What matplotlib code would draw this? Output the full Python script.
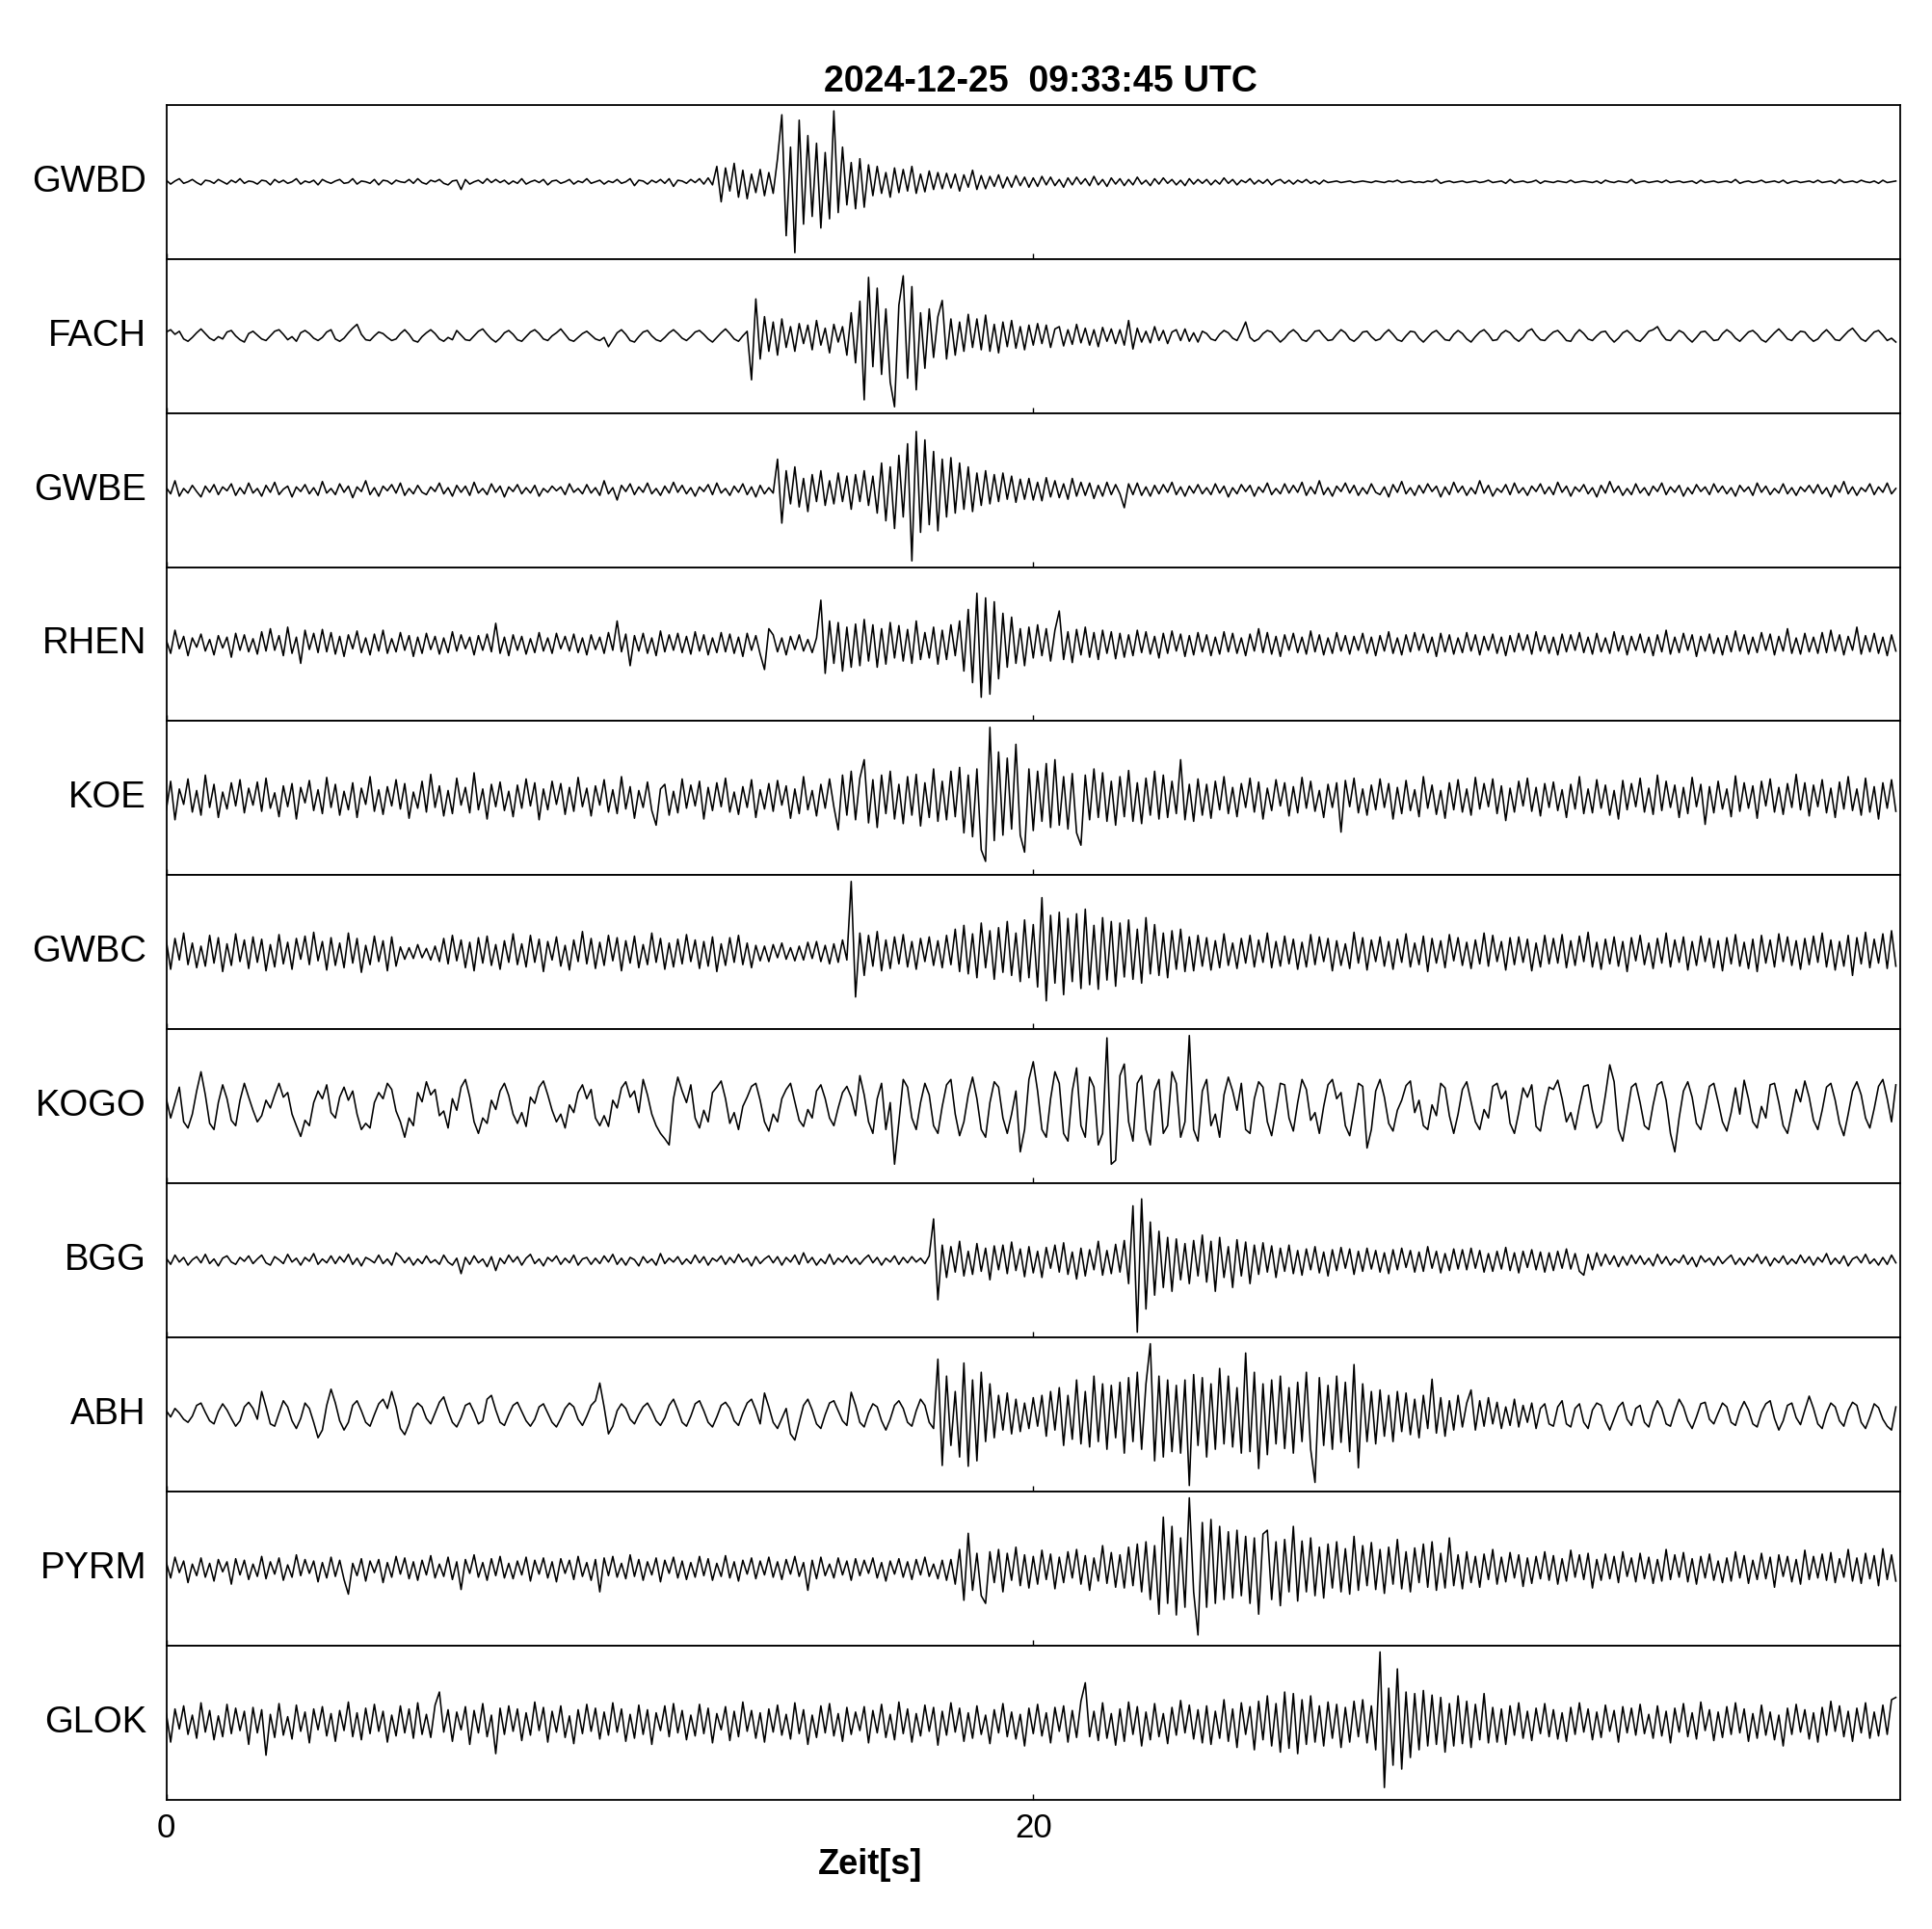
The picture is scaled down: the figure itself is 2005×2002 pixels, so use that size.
import numpy as np
import matplotlib
matplotlib.use("Agg")
import matplotlib.pyplot as plt

plt.rcParams['font.family'] = ['Liberation Sans', 'DejaVu Sans']

title_text = "2024-12-25  09:33:45 UTC"
xlabel_text = "Zeit[s]"
stations = ["GWBD", "FACH", "GWBE", "RHEN", "KOE", "GWBC", "KOGO", "BGG", "ABH", "PYRM", "GLOK"]
dt = 0.1          # sample spacing [s]
x_ticks = [0, 20]
x_max = 40

# amplitudes in % of the half panel height, one sample every 0.1 s
GWBD = [
2,-3,1,4,-2,0,3,-1,-4,2,1,-2,3,0,-3,2,-1,4,-2,1,
0,-3,2,1,-4,3,-1,2,-2,0,4,-3,1,-1,2,-4,3,0,-2,1,
3,-2,-1,4,-3,1,0,-2,3,-4,2,1,-3,2,0,-1,3,-2,4,-1,
-3,2,0,3,-2,-4,1,2,-10,3,-3,0,2,-2,4,-1,3,-1,2,-3,
1,-2,4,-3,0,2,-1,3,-4,1,2,-2,0,3,-3,1,-1,4,-2,0,
2,-3,1,-1,3,-2,0,4,-5,2,1,-3,2,-1,3,-2,4,-6,2,1,
-2,3,-1,4,-3,5,-4,20,-26,18,-12,24,-20,15,-22,10,-14,16,-18,12,
-15,30,87,-70,45,-92,80,-55,60,-45,50,-60,38,-48,92,-40,45,-30,25,-35,
30,-33,22,-18,20,-15,12,-20,18,-14,16,-12,20,-15,10,-13,14,-10,12,-9,
11,-8,10,-12,9,-7,15,-10,8,-9,7,-6,9,-8,6,-7,8,-5,6,-7,
5,-6,7,-4,6,-5,3,-7,5,-4,6,-3,4,-5,7,-4,3,-6,5,-3,
4,-5,3,-4,6,-3,2,-5,4,-3,5,-2,3,-4,2,-5,4,-3,3,-2,
3,-4,2,-3,5,-2,3,-4,2,-1,4,-3,2,-2,3,-4,1,3,-2,2,
-3,2,-1,3,-2,1,-3,2,-1,0,1,-1,0,1,-1,0,1,0,-1,1,
0,-1,1,0,2,-1,0,1,-1,0,-1,1,0,3,-2,0,1,-1,0,1,
-1,0,1,-1,0,2,-1,0,1,-2,3,-1,0,1,-1,0,2,-2,1,0,
-1,1,0,-1,2,-1,0,1,0,-1,1,-2,2,0,-1,1,0,-1,3,-2,
0,1,-1,0,1,-1,2,-1,0,1,-1,0,1,-2,2,-1,0,1,-1,0,
1,-1,3,-2,0,1,-1,0,2,-1,0,1,-1,2,-2,0,1,-1,0,1,
-1,2,-1,0,1,-2,3,-1,0,1,-1,2,0,-1,1,-2,2,-1,0,1]

FACH = [
5,8,2,6,-4,-7,-2,4,9,3,-3,-6,-1,-4,5,7,0,-5,-8,3,
6,1,-4,-6,0,6,8,2,-5,-1,-7,4,7,3,-3,-6,-2,5,8,-4,
-7,-3,4,10,15,2,-5,-6,0,5,3,-2,-6,-4,3,8,2,-6,-8,-1,
4,8,3,-4,-7,-2,-5,7,1,-5,-6,0,6,9,2,-4,-8,-3,4,7,
2,-5,-7,-1,5,8,3,-4,-6,0,4,9,2,-5,-7,-2,3,6,1,-4,
-6,-2,-14,-5,4,8,2,-6,-8,-1,5,7,0,-5,-7,-2,4,8,3,-3,
-6,-1,5,7,2,-4,-8,-2,4,9,3,-4,-7,0,6,-57,48,-30,25,-20,
18,-25,22,-15,12,-20,16,-10,14,-18,20,-12,10,-22,15,-8,12,-25,30,-35,
45,-83,76,-40,62,-50,35,-60,-92,40,78,-55,64,-70,30,-42,35,-28,25,46,
-30,22,-25,18,-20,28,-15,22,-18,27,-20,15,-22,18,-14,20,-16,12,-18,14,
-12,16,-10,14,-15,9,12,-13,8,-11,15,-9,10,-12,8,-14,11,-7,9,-10,
8,-12,20,-17,10,-8,6,-9,12,-6,7,-10,5,8,-6,9,-7,4,-8,6,
3,-4,-6,2,7,4,-3,-6,5,18,-2,-7,-4,3,7,5,-2,-8,-3,4,
8,3,-5,-7,-1,6,7,0,-6,-5,2,8,4,-4,-7,-2,5,6,-1,-6,
-4,3,8,2,-5,-7,0,6,5,-3,-8,-2,4,7,1,-5,-6,2,7,3,
-4,-8,-1,5,8,2,-6,-5,3,7,4,-3,-7,-2,6,9,1,-5,-6,0,
5,7,1,-6,-7,2,8,3,-4,-6,0,5,6,-2,-8,-3,4,7,2,-5,
-7,-1,6,8,12,2,-5,-6,1,7,4,-3,-8,-2,5,6,0,-6,-5,3,
8,4,-3,-7,-1,5,7,2,-5,-8,-2,4,9,3,-4,-6,1,6,5,-2,
-7,-4,3,8,2,-5,-6,0,6,10,3,-4,-7,-1,5,7,1,-6,-3,-8]

GWBE = [
3,-5,12,-8,2,-4,6,-2,-9,5,-3,7,-6,4,-1,8,-7,3,-5,9,
-4,2,-8,6,-3,10,-6,1,5,-9,4,-2,7,-5,3,-7,11,-4,2,-6,
8,-3,5,-10,4,-2,12,-6,3,-8,5,-1,7,-4,9,-7,2,-5,6,-3,
-6,4,-2,9,-5,3,-8,6,-3,5,-7,10,-4,2,-6,8,-3,5,-9,4,
-2,7,-5,3,-4,6,-8,2,-3,5,-1,4,-6,8,-3,2,-5,7,-4,3,
-7,12,-5,3,-13,6,-2,8,-6,4,-3,9,-5,2,-7,5,-4,10,-3,6,
-5,3,-8,4,-2,7,-6,9,-4,2,-7,5,-3,8,-6,4,-9,6,-5,3,
-4,40,-43,25,-18,30,-22,15,-28,20,-15,25,-20,12,-18,22,-15,18,-25,20,
-15,25,-20,18,-30,35,-40,30,-50,45,-35,60,-92,76,-55,65,-45,50,-53,40,
-35,42,-30,35,-25,30,-28,22,-20,25,-18,20,-15,22,-12,18,-16,14,-12,15,
-13,10,-14,16,-9,12,-10,8,-12,15,-8,10,-7,9,-11,6,-8,10,-6,7,
-5,-23,8,-6,9,-7,4,-8,6,-5,7,-3,10,-6,4,-8,5,-4,7,-5,
3,-6,8,-4,5,-9,3,-5,7,-2,6,-8,4,-3,9,-6,2,-5,8,-4,
6,-3,10,-7,4,-5,12,-6,3,-8,5,-2,9,-4,6,-7,3,-5,8,-3,
-6,4,-9,7,-3,11,-5,3,-7,6,-4,8,-2,5,-9,4,-6,10,-3,5,
-7,3,-5,12,-4,6,-8,2,-3,7,-6,9,-4,3,-7,5,-2,8,-5,4,
-6,10,-3,5,-8,4,-2,7,-5,3,-9,6,-4,11,-3,5,-7,2,-6,8,
-4,3,-7,5,-2,9,-6,4,-3,6,-8,3,-5,7,-2,4,-6,8,-3,5,
-5,3,-8,6,-2,4,-7,9,-3,5,-6,2,-4,8,-5,3,-7,4,-2,6,
-4,7,-5,3,-9,6,-3,11,-5,4,-7,3,-2,8,-6,4,-3,9,-5,2]

RHEN = [
5,-12,18,-6,10,-15,8,-4,13,-9,6,-14,11,-5,9,-17,14,-8,12,-10,
7,-13,16,-9,20,-8,11,-15,22,-12,9,-25,18,-7,14,-11,19,-10,15,-13,
10,-16,12,-6,17,-11,8,-14,13,-9,18,-12,7,-10,15,-8,11,-16,9,-12,
14,-7,10,-13,8,-11,16,-9,12,-6,9,-14,11,-8,13,-10,27,-12,9,-15,
12,-8,10,-13,7,-11,15,-9,8,-12,14,-6,10,-9,13,-11,8,-14,12,-7,
9,-12,15,-8,30,-10,13,-28,11,-9,14,-12,8,-15,17,-10,12,-8,14,-11,
10,-13,16,-9,12,-14,8,-11,15,-10,13,-12,9,-16,14,-8,11,-13,-33,20,
12,-10,8,-14,10,-7,12,-9,6,-11,8,57,-38,30,-25,28,-35,22,-30,26,
-28,32,-22,25,-30,20,-26,28,-18,24,-22,19,-25,30,-20,15,-18,22,-26,18,
-20,25,-15,30,-35,45,-50,66,-69,60,-65,55,-45,40,-30,35,-25,20,-28,22,
-18,25,-15,20,-22,18,43,-20,16,-24,19,-14,22,-17,15,-20,18,-12,16,-19,
14,-17,12,-15,18,-11,16,-13,10,-18,14,-12,17,-9,13,-16,11,-14,15,-10,
12,-15,9,-13,16,-10,14,-12,8,-15,13,-9,20,-11,15,-13,10,-16,12,-8,
14,-11,9,-13,17,-10,12,-14,8,-12,15,-9,11,-13,10,-8,14,-12,9,-15,
11,-9,16,-12,8,-14,12,-10,15,-8,13,-11,9,-16,14,-10,12,-13,8,-11,
15,-9,12,-14,10,-8,13,-12,9,-15,11,-10,14,-8,12,-13,16,-9,11,-12,
9,-14,13,-10,12,-8,15,-11,9,-13,14,-10,8,-12,16,-9,11,-14,10,-8,
13,-11,9,-15,12,-10,18,-13,9,-11,14,-8,12,-16,10,-9,13,-12,8,-14,
11,-10,17,-9,12,-13,9,-11,15,-8,13,-14,10,-9,20,-12,8,-13,14,-10,
9,-12,15,-11,18,-9,12,-14,10,-8,22,-13,11,-10,14,-12,9,-15,12,-9]

KOE = [
-15,22,-28,12,-8,25,-18,10,-22,30,-12,18,-25,8,-14,20,-10,24,-19,13,
-9,21,-17,26,-13,7,-24,16,-11,19,-27,14,-6,23,-16,11,-20,27,-12,18,
-22,9,-15,20,-25,13,-8,28,-17,11,-21,15,-10,24,-14,19,-26,8,-13,22,
-18,31,-12,16,-23,10,-20,26,-9,14,-19,33,-15,12,-27,18,-11,21,-16,9,
-24,17,-13,25,-10,20,-28,12,-15,22,-8,19,-21,14,-17,27,-11,13,-23,16,
-9,24,-18,11,-20,28,-14,15,-26,10,-12,21,-16,-35,12,18,-22,9,-19,25,
-13,17,-10,22,-27,14,-16,20,-11,26,-18,8,-21,15,-12,24,-25,11,-14,19,
-17,23,-9,16,-26,12,-20,28,-15,10,-23,18,-13,25,-11,-41,30,-22,35,-28,
26,50,-32,24,-38,30,-20,35,-27,18,-33,28,-22,31,-36,20,-25,38,-30,22,
-28,35,-24,40,-45,30,-50,38,-67,-82,92,-55,60,-48,52,-40,70,-48,-70,38,
-42,35,-30,45,-38,50,-35,28,-40,32,-45,-61,30,-28,38,-25,33,-30,22,-35,
28,-24,36,-30,20,-33,26,-22,35,-27,30,-25,22,-20,50,-28,18,-30,25,-22,
18,-26,22,-15,28,-20,14,-24,19,-12,26,-18,21,-27,13,-16,24,-10,20,-23,
15,-19,27,-13,22,-17,10,-25,18,-12,20,-44,23,-11,26,-19,12,-22,17,-15,
25,-12,19,-27,14,-20,23,-16,11,-24,28,-13,17,-21,10,-26,20,-15,24,-18,
12,-22,27,-14,19,-11,25,-20,16,-29,13,-18,22,-10,26,-17,14,-23,19,-12,
21,-16,11,-25,18,-14,28,-20,12,-19,24,-13,17,-22,10,-27,23,-15,19,-11,
26,-18,13,-21,30,-16,22,-12,17,-25,14,-20,27,-11,18,-34,15,-19,22,-14,
12,-24,29,-17,20,-13,16,-26,22,-10,25,-18,14,-21,19,-12,31,-15,20,-23,
17,-11,24,-19,13,-25,21,-14,28,-16,12,-22,26,-18,15,-27,20,-13,24,-17]

GWBC = [
15,-22,18,-10,25,-16,12,-20,8,-18,22,-14,19,-25,11,-17,24,-12,16,-21,
20,-13,17,-24,10,-19,23,-15,13,-22,18,-9,21,-16,26,-11,14,-23,19,-17,
12,-20,25,-14,18,-26,9,-16,21,-12,15,-24,20,-18,7,-9,6,-8,10,-7,
5,-10,8,-12,18,-15,22,-11,16,-20,13,-24,19,-14,21,-17,10,-22,15,-13,
24,-16,11,-19,22,-13,17,-25,14,-10,20,-18,9,-23,16,-12,27,-15,18,-21,
13,-17,22,-11,19,-24,15,-14,21,-20,10,-16,25,-13,18,-22,12,-19,17,-15,
23,-12,16,-21,14,-18,20,-25,11,-17,19,-13,22,-16,12,-20,9,-11,8,-12,
10,-7,12,-9,6,-11,8,-10,13,-8,14,-12,9,-15,11,-13,16,-10,92,-58,
25,-30,22,-18,27,-24,16,-21,20,-15,23,-19,14,-22,18,-12,20,-17,15,-20,
22,-16,30,-25,35,-28,24,-33,38,-20,28,-35,32,-26,40,-30,25,-38,42,-33,
36,-45,71,-63,48,-40,52,-55,44,-38,50,-47,56,-42,35,-48,45,-36,40,-44,
38,-32,42,-35,30,-40,45,-28,36,-30,25,-33,28,-22,30,-25,20,-24,22,-18,
19,-23,15,-20,24,-17,12,-21,18,-14,22,-19,16,-13,25,-20,14,-18,21,-15,
17,-22,13,-19,23,-16,20,-12,18,-24,15,-17,11,-21,26,-14,19,-23,16,-12,
20,-18,14,-22,17,-13,24,-19,12,-16,21,-25,18,-14,15,-20,23,-11,19,-17,
13,-21,16,-15,25,-18,22,-12,14,-23,19,-16,20,-13,17,-24,12,-19,22,-15,
18,-14,23,-20,15,-17,21,-12,26,-19,13,-22,17,-15,20,-18,14,-25,19,-11,
22,-16,12,-21,18,-14,25,-19,16,-13,20,-23,14,-17,21,-12,18,-20,15,-24,
19,-15,23,-18,13,-21,17,-25,22,-14,16,-19,24,-12,20,-17,15,-22,18,-16,
21,-13,25,-19,16,-23,14,-18,22,-30,19,-15,26,-20,17,-14,24,-21,28,-18]

KOGO = [
10,-15,5,25,-20,-28,-10,20,45,15,-22,-30,5,28,10,-18,-25,8,30,12,
-5,-20,-12,8,-2,15,30,12,18,-10,-25,-39,-18,-25,5,20,10,28,-8,-15,
12,25,8,20,-10,-30,-22,-28,5,18,10,30,22,-6,-20,-40,-15,-25,18,6,
32,15,22,-12,-6,-28,10,-5,25,35,12,-20,-35,-15,-22,8,-4,20,30,14,
-10,-22,-8,-26,12,4,25,33,15,-5,-20,-10,-28,2,-8,18,28,10,22,-15,
-25,-12,-26,8,-2,24,32,12,20,-8,35,15,-10,-25,-35,-42,-50,10,38,20,
5,28,-15,-28,-5,-20,18,25,33,10,-22,-8,-30,0,12,26,30,8,-20,-32,
-10,-20,10,22,30,6,-18,-26,-4,-15,20,28,10,-15,-25,-2,18,26,12,-12,
40,15,-20,-35,10,30,-30,5,-75,-20,35,25,-15,-30,5,30,15,-25,-35,0,
28,35,-10,-38,-20,15,38,10,-30,-40,5,32,25,-15,-35,-10,20,-59,-30,35,
58,20,-30,-40,10,45,30,-35,-45,20,50,-25,-40,38,25,-50,-35,89,-75,-70,
40,55,-20,-45,30,40,-30,-50,20,35,-35,-25,45,30,-40,-20,92,-30,-45,20,
35,-25,-10,-40,15,38,20,-5,30,-30,-35,10,32,25,-20,-38,-5,30,28,-15,
-32,5,35,22,-18,-8,-35,0,28,35,10,18,-25,-38,-5,30,26,-54,-30,20,
35,12,-22,-32,-5,8,27,33,-8,8,-25,-30,2,-12,30,24,-12,-35,-10,22,
32,6,-20,-30,-4,-15,26,30,10,20,-22,-35,-8,24,12,28,-26,-32,0,25,
22,34,10,-20,-8,-30,0,26,28,-5,-28,-20,15,54,32,-30,-45,-10,25,30,
5,-25,-30,2,28,32,8,-35,-59,-15,20,32,12,-22,-30,-3,26,30,6,-20,
-32,-8,24,-10,34,10,-20,-28,0,-15,28,30,5,-25,-35,-8,22,6,33,12,
-18,-30,-5,25,30,8,-22,-38,-10,20,32,15,-15,-28,-3,26,35,10,-20,28]

BGG = [
3,-5,7,-2,4,-6,1,5,-3,8,-4,2,-7,3,6,-2,-5,4,-1,6,
-4,2,7,-3,-6,5,1,-4,8,-2,3,-6,4,-1,9,-5,2,-3,6,-4,
5,-2,8,-5,3,-7,4,1,-3,7,-4,2,-6,10,5,-3,4,-6,2,-4,
6,-3,1,-5,7,-2,-6,3,-17,4,-5,6,-3,2,-8,5,-13,3,-4,7,
-2,5,-6,3,8,-4,2,-7,4,-1,6,-5,3,-3,7,-6,2,4,-5,3,
-4,6,-2,8,-5,3,-6,4,1,-7,5,-3,2,-6,9,-4,3,-2,5,-5,
2,-4,7,-3,5,-6,3,-1,6,-5,4,-3,8,-2,3,-7,5,-4,2,6,
-3,5,-6,4,-2,7,-5,10,-3,4,-6,2,-4,8,-5,3,-2,6,-4,3,
-5,2,7,-3,4,-6,3,-2,6,-5,4,-3,5,-2,3,-4,6,54,-51,20,
-22,18,-15,25,-20,12,-18,22,-14,16,-25,19,-12,20,-17,24,-13,15,-21,18,
-16,12,-22,17,-10,20,-15,23,-18,11,-24,16,-20,14,-12,25,-19,13,-17,21,
-15,26,-30,71,-93,80,-63,50,-45,38,-35,30,-40,28,-25,22,-30,26,-20,33,
-28,25,-40,30,-22,18,-35,27,-20,24,-30,20,-18,23,-15,19,-22,16,-14,20,
-17,13,-19,15,-12,18,-16,11,-20,14,-13,17,-10,15,-18,12,-14,16,-11,13,
-15,10,-17,14,-12,16,-9,13,-15,11,-14,18,-10,12,-16,9,-13,15,-11,14,
-12,16,-10,13,-15,9,-14,12,-11,17,-13,10,-16,12,-9,14,-12,11,-15,10,
-13,12,-10,15,-11,9,-14,-19,8,-12,10,-7,8,-5,6,-8,5,-6,7,-4,
6,-5,3,-7,8,-4,5,-6,2,-3,7,-5,4,-8,6,-2,3,-6,5,-4,
2,7,-5,3,-6,4,-2,8,-4,5,-7,3,-3,6,-5,2,-4,7,-3,5,
-6,4,-2,9,-5,3,-4,6,-7,2,5,-3,8,-4,2,-6,4,-5,7,-3]

ABH = [
5,-3,8,2,-6,-10,-2,12,15,3,-8,-12,4,14,6,-5,-15,-8,10,16,
8,-6,30,10,-12,-15,2,18,10,-8,-18,-5,15,8,-10,-30,-20,12,33,15,
-8,-20,-10,12,18,5,-10,-15,0,14,20,8,30,10,-18,-26,-12,8,15,10,
-5,-12,2,16,23,5,-10,-16,-4,12,15,3,-12,-8,20,25,6,-10,-14,0,
12,16,4,-8,-15,-6,10,14,2,-10,-16,-5,8,15,10,-6,-14,-2,12,18,
41,10,-25,-15,5,14,8,-6,-12,0,10,15,5,-8,-14,-4,12,20,6,-10,
-15,-2,14,18,5,-10,-16,-3,12,16,8,-8,-14,2,15,20,6,-12,28,10,
-10,-18,-5,8,-25,-33,-10,12,20,6,-12,-18,0,15,18,5,-8,-14,29,12,
-10,-16,2,14,10,-8,-20,-6,12,18,8,-10,-15,5,20,12,-10,-18,72,-66,
50,-40,30,-55,67,-67,45,-60,55,-35,40,-30,25,-20,28,-25,20,-22,15,-18,
22,-15,25,-28,30,-20,35,-40,25,-32,45,-38,30,-42,50,-35,40,-45,38,-30,
42,-50,48,-35,55,-45,40,92,-60,50,-55,45,-48,38,-50,45,-92,52,-40,48,
-55,40,-45,60,-38,50,-42,35,-50,80,-48,55,-70,40,-52,45,-38,50,-44,35,
-50,42,-35,55,-45,-88,48,-40,38,-45,50,-36,42,-48,65,-69,40,-35,30,-38,
32,-28,25,-35,30,-22,28,-26,20,-30,25,-18,46,-24,22,-28,18,-20,25,-16,
15,32,-20,18,-15,22,-12,16,-18,10,-14,20,-16,12,-10,15,-18,8,14,-12,
-15,10,18,-12,-16,8,14,-10,-18,6,15,12,-8,-20,-5,10,16,-6,-14,8,
12,-10,-16,5,18,8,-12,-15,4,20,10,-8,-18,-3,14,16,-6,-12,2,15,
10,-10,-14,5,17,6,-12,-16,3,14,18,-5,-20,-8,12,15,-4,-13,6,24,
8,-12,-18,2,15,10,-8,-15,5,16,12,-10,-18,-3,14,9,-6,-15,-20,10]

PYRM = [
8,-12,15,-5,10,-18,6,-9,14,-11,7,-16,12,-4,9,-20,13,-8,11,-14,
6,-10,16,-13,9,-7,14,-15,5,-11,18,-9,12,-6,10,-17,8,-12,15,-10,
11,-14,-33,7,-9,13,-16,10,-5,12,-18,8,-11,16,-7,14,-13,9,-15,11,
-8,17,-12,6,-10,15,-14,9,-27,12,-6,18,-11,8,-15,13,-9,16,-12,7,
-13,10,-8,15,-16,11,-7,14,-12,9,-17,13,-6,11,-14,16,-10,8,-15,12,
-30,14,-9,16,-11,7,-13,18,-10,12,-15,9,-8,14,-17,11,-6,15,-12,10,
-14,8,-11,16,-9,13,-15,7,-10,17,-12,9,-16,11,-7,14,-13,10,-8,15,
-11,9,-14,12,-7,16,-10,8,-28,11,-13,15,-9,6,-12,14,-8,10,-15,13,
-9,11,-6,14,-12,8,-16,10,-7,13,-11,9,-14,12,-8,15,-10,6,-13,11,
-15,12,-20,25,-41,46,-28,20,-35,-45,22,-18,25,-30,20,-15,28,-22,18,-25,
16,-20,24,-14,19,-26,15,-18,22,-12,25,-20,17,-28,14,-16,30,-19,21,-24,
18,-25,28,-22,32,-30,35,-40,30,-59,67,-45,55,-60,40,-50,92,-30,-86,60,
-50,64,-45,55,-40,48,-38,50,-35,42,-45,40,-59,45,50,-40,35,-48,38,-30,
55,-42,36,-30,40,-35,28,-38,32,-25,35,-30,26,-33,42,-28,30,-22,34,-27,
25,-32,28,-20,38,-26,22,-30,27,-18,32,-24,35,-28,20,-25,40,-22,18,-26,
22,-18,16,-24,19,-14,25,-20,15,-17,21,-12,18,-23,14,-19,16,-13,22,-15,
17,-20,13,-16,24,-11,18,-14,20,-25,12,-15,19,-13,16,-18,22,-10,14,-17,
20,-13,15,-19,12,-16,25,-14,18,-11,21,-17,13,-20,16,-12,19,-15,10,-18,
14,-16,22,-12,17,-19,11,-14,20,-13,15,-24,18,-10,16,-17,12,-20,24,-14,
16,-12,19,-15,21,-18,13,-11,25,-16,14,-19,20,-13,17,-22,26,-14,18,-16]

GLOK = [
12,-25,18,-8,22,-15,10,-20,26,-12,16,-22,9,-18,24,-14,19,-10,15,-28,
20,-13,17,-42,11,-19,25,-16,8,-21,23,-11,14,-26,18,-9,21,-17,12,-24,
16,-10,27,-18,13,-22,19,-14,24,-11,15,-25,10,-17,22,-13,18,-20,26,-15,
11,-19,23,40,-12,17,-24,14,-9,21,-28,16,-13,25,-18,10,-40,19,-15,22,
-11,18,-23,13,-16,27,-10,20,-25,15,-12,22,-19,9,-27,17,-14,24,-11,19,
-21,14,-16,26,-12,18,-24,11,-20,23,-15,17,-28,13,-10,22,-18,25,-13,16,
-22,10,-17,24,-14,19,-26,12,-9,21,-23,15,-18,27,-11,16,-20,13,-25,18,
-12,23,-16,11,-21,26,-14,17,-28,10,-19,22,-13,25,-17,12,-24,20,-15,14,
-10,21,-26,16,-13,24,-19,11,-22,27,-14,18,-25,12,-17,23,-11,20,-29,15,
-16,26,-12,19,-24,13,-20,22,-15,10,-27,17,-13,25,-18,14,-21,11,-30,19,
-14,24,-17,13,-26,20,-11,22,-25,16,-19,28,52,-18,15,-23,26,-20,12,-29,
18,-24,27,-15,21,-30,14,-22,25,-18,12,-27,20,-16,29,-13,23,-21,17,-26,
22,-28,15,-20,30,-24,18,-32,26,-15,21,-35,28,-22,35,-30,25,-38,40,-33,
38,-40,30,-28,35,-25,22,-30,27,-20,24,-32,20,-25,28,-18,30,-26,22,-35,
92,-84,45,-55,70,-60,40,-45,38,-35,42,-30,36,-28,33,-38,25,-30,35,-27,
28,-32,24,-22,38,-26,20,-25,18,-28,22,-16,26,-20,15,-23,19,-14,25,-18,
17,-21,13,-24,20,-15,26,-12,18,-22,14,-19,23,-11,16,-25,21,-13,19,-16,
24,-14,11,-20,22,-17,15,-26,19,-12,25,-18,13,-21,27,-10,17,-23,14,-19,
21,-15,26,-13,18,-24,12,-20,23,-16,14,-22,10,-30,19,-15,24,-12,17,-21,
13,-25,20,-16,28,-11,22,-18,15,-24,19,-13,26,-20,14,-17,23,-15,30,33]

traces = [GWBD, FACH, GWBE, RHEN, KOE, GWBC, KOGO, BGG, ABH, PYRM, GLOK]

W, H = 2005, 2002
fig = plt.figure(figsize=(W / 100, H / 100), dpi=100)
left_px, right_px, top_px, bottom_px = 172.6, 1972.0, 108.7, 1868.0
axes = fig.subplots(len(stations), 1, sharex=True,
                    gridspec_kw=dict(hspace=0, left=left_px / W, right=right_px / W,
                                     top=1 - top_px / H, bottom=1 - bottom_px / H))

for ax, name, vals in zip(axes, stations, traces):
    v = np.asarray(vals, dtype=float)
    t = np.arange(len(v)) * dt
    ax.plot(t, v, color='black', lw=1.15)
    ax.set_xlim(0, x_max)
    ax.set_ylim(-100, 100)
    ax.set_yticks([])
    ax.set_xticks(x_ticks)
    ax.tick_params(axis='x', direction='in', length=4, width=1.0, top=False,
                   labelbottom=False, labelsize=25, pad=9)
    for s in ax.spines.values():
        s.set_linewidth(1.3)
    ax.text(-0.0115, 0.5, name, transform=ax.transAxes, ha='right', va='center',
            fontsize=27.5)

axes[-1].tick_params(axis='x', labelbottom=True)
axes[0].set_title(title_text, fontsize=27, fontweight='bold', pad=10, x=0.5043)
fig.text(903 / W, 1 - 1918 / H, xlabel_text, ha='center', va='top',
         fontsize=26, fontweight='bold')

fig.savefig('out.png', dpi=100)
